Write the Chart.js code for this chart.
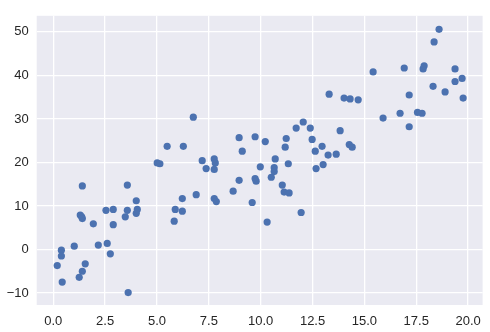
<!DOCTYPE html>
<html>
<head>
<meta charset="utf-8">
<script src="https://cdn.jsdelivr.net/npm/chart.js@4.4.1/dist/chart.umd.min.js"></script>
<style>
html,body{margin:0;padding:0;background:#fff;}
#wrap{width:490px;height:332px;}
</style>
</head>
<body>
<div id="wrap"><canvas id="c" width="490" height="332"></canvas></div>
<script>
const xValues = [0.19,0.39,0.39,0.43,1.01,1.30,1.37,1.40,1.40,1.25,1.40,1.54,1.93,2.17,2.54,2.60,2.75,2.89,2.89,3.47,3.57,3.57,3.61,4.00,4.00,4.05,5.01,5.14,5.49,6.75,6.27,5.83,5.88,6.22,6.22,6.89,7.18,7.37,7.76,7.81,7.76,7.76,7.86,8.67,8.96,8.96,9.11,9.59,9.73,9.73,9.78,9.98,10.22,10.31,10.51,10.65,10.65,10.70,11.04,11.13,11.37,11.18,11.23,11.33,11.71,11.95,12.05,12.39,12.48,12.63,12.67,12.96,13.01,13.30,13.25,13.64,13.83,14.02,14.31,14.70,14.27,14.41,15.42,15.90,16.72,16.92,17.16,17.16,17.56,17.78,17.83,17.88,18.31,18.36,18.60,18.89,19.37,19.37,19.71,19.76];
const yValues = [-3.7,-0.15,-1.5,-7.5,0.75,7.9,7.5,7.1,14.6,-6.4,-5.0,-3.3,5.9,1.0,9.0,1.4,-1.0,9.2,5.7,7.5,9.0,14.8,-9.9,11.2,8.3,9.2,19.9,19.7,23.7,30.4,23.7,6.5,9.2,8.8,11.7,12.6,20.4,18.6,20.8,19.9,18.4,11.7,11.0,13.4,25.7,15.9,22.6,10.8,25.9,16.3,15.7,19.0,24.8,6.3,16.6,18.8,17.9,20.8,14.8,13.2,13.0,23.5,25.5,19.7,27.9,8.5,29.3,27.9,25.3,22.6,18.6,23.7,19.5,35.7,21.7,21.9,27.3,34.8,34.6,34.4,24.1,23.5,40.8,30.2,31.3,41.7,35.5,28.2,31.5,31.3,41.5,42.2,37.5,47.7,50.6,36.2,41.5,38.6,39.3,34.8];
const xTicks = [0, 2.5, 5, 7.5, 10, 12.5, 15, 17.5, 20];
const yTicks = [-10, 0, 10, 20, 30, 40, 50];

const points = xValues.map((x, i) => ({x: x, y: yValues[i]}));

const bgPlugin = {
  id: 'bg',
  beforeDraw(chart) {
    const {ctx, chartArea: a} = chart;
    ctx.save();
    ctx.fillStyle = '#EAEAF2';
    ctx.fillRect(a.left, a.top, a.right - a.left, a.bottom - a.top);
    ctx.restore();
  }
};

const font = {family: "'Liberation Sans', Arial, sans-serif", size: 13};

new Chart(document.getElementById('c'), {
  type: 'scatter',
  data: {
    datasets: [{
      data: points,
      backgroundColor: '#4C72B0',
      borderWidth: 0,
      pointRadius: 3.6,
      pointHoverRadius: 3.6
    }]
  },
  options: {
    responsive: false,
    animation: false,
    devicePixelRatio: 1,
    layout: {padding: {top: 6.7, right: 7.3, left: 0, bottom: 0}},
    plugins: {legend: {display: false}, tooltip: {enabled: false}},
    scales: {
      x: {
        type: 'linear',
        min: -0.8, max: 20.7,
        afterBuildTicks(s) { s.ticks = xTicks.map(v => ({value: v})); },
        afterFit(s) { s.height = 27; },
        grid: {color: '#ffffff', lineWidth: 1.3, drawTicks: false},
        border: {display: false},
        ticks: {
          color: '#262626', font: font, padding: 9, maxRotation: 0,
          callback: v => v.toFixed(1)
        }
      },
      y: {
        type: 'linear',
        min: -12.76, max: 53.7,
        afterBuildTicks(s) { s.ticks = yTicks.map(v => ({value: v})); },
        afterFit(s) { s.width = 36.7; },
        grid: {color: '#ffffff', lineWidth: 1.3, drawTicks: false},
        border: {display: false},
        ticks: {
          color: '#262626', font: font, padding: 8,
          callback: v => (v < 0 ? '\u2212' + Math.abs(v) : String(v))
        }
      }
    }
  },
  plugins: [bgPlugin]
});
</script>
</body>
</html>
